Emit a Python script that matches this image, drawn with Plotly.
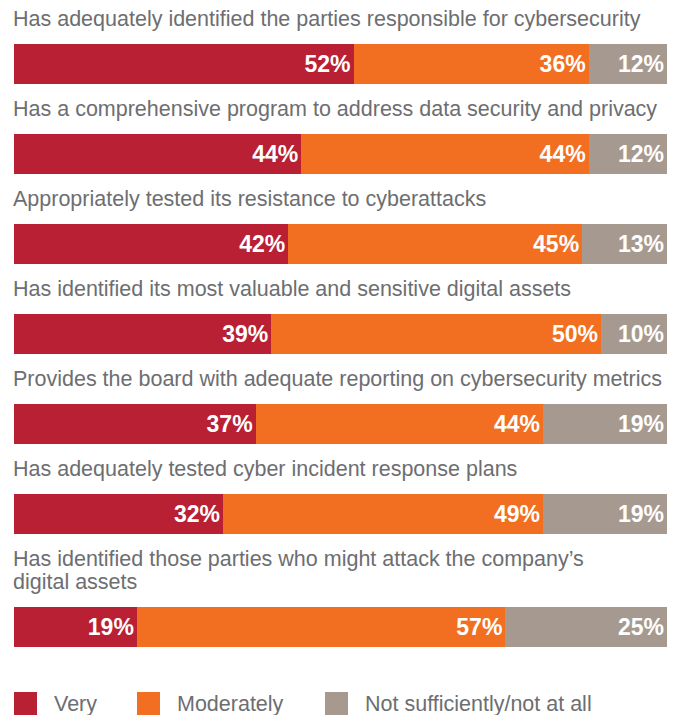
import plotly.graph_objects as go

# Survey results (share of directors)
statements = [
    "Has adequately identified the parties responsible for cybersecurity",
    "Has a comprehensive program to address data security and privacy",
    "Appropriately tested its resistance to cyberattacks",
    "Has identified its most valuable and sensitive digital assets",
    "Provides the board with adequate reporting on cybersecurity metrics",
    "Has adequately tested cyber incident response plans",
    "Has identified those parties who might attack the company’s\ndigital assets",
]
very = [52, 44, 42, 39, 37, 32, 19]
moderately = [36, 44, 45, 50, 44, 49, 57]
not_sufficiently = [12, 12, 13, 10, 19, 19, 25]

series_names = ["Very", "Moderately", "Not sufficiently/not at all"]
colors = ["#B92034", "#F26F22", "#A69A90"]
label_color = "#6D6E71"
FONT = "Liberation Sans"

# the page body has an 8px margin, so the figure is shrunk to fit the window
PAGE = 8
W, H = 677 - PAGE, 715 - PAGE
ROW_PX = 90          # pixel spacing between rows
LINE_PX = 23         # label line spacing
FIRST_PX = 64 - PAGE # centre of first bar from top of figure

# row positions in row units; extra label lines push the bar down
ypos = []
offset = 0.0
for i, s in enumerate(statements):
    offset += s.count("\n") * LINE_PX / ROW_PX
    ypos.append(i + offset)

top = -FIRST_PX / ROW_PX
bottom = top + H / ROW_PX

fig = go.Figure()
for name, vals, col in zip(series_names, [very, moderately, not_sufficiently], colors):
    fig.add_trace(go.Bar(
        y=ypos, x=vals, orientation="h", name=name,
        marker=dict(color=col, line=dict(width=0)),
        width=40 / ROW_PX,
        text=[f"{v}%" for v in vals],
        textposition="inside", insidetextanchor="end",
        textangle=0, constraintext="none",
        textfont=dict(color="white", size=23, family=FONT, weight="bold"),
        hoverinfo="skip",
    ))

# statement labels above each bar, one annotation per line
for s, y in zip(statements, ypos):
    lines = s.split("\n")
    n = len(lines)
    for j, line in enumerate(lines):
        fig.add_annotation(
            x=0, y=y, xref="x", yref="y", text=line, showarrow=False,
            xanchor="left", yanchor="bottom", align="left",
            xshift=-3, yshift=31 + (n - 1 - j) * LINE_PX,
            font=dict(size=21.5, color=label_color, family=FONT),
        )

# legend drawn by hand to get large swatches
ML, MR = 14 - PAGE, 10
plot_w = W - ML - MR
def px_x(p):
    return (p - 14) / plot_w

def px_y(p):
    return 1 - (p - PAGE) / H

leg_x = [14, 137, 325]
leg_top = 692
for name, col, lx in zip(series_names, colors, leg_x):
    fig.add_shape(
        type="rect", xref="paper", yref="paper",
        x0=px_x(lx), x1=px_x(lx + 23),
        y0=px_y(leg_top + 23), y1=px_y(leg_top),
        fillcolor=col, line=dict(width=0),
    )
    fig.add_annotation(
        x=px_x(lx + 38), y=px_y(leg_top + 12), xref="paper", yref="paper",
        text=name, showarrow=False, xanchor="left", yanchor="middle",
        font=dict(size=21.5, color=label_color, family=FONT),
    )

fig.update_layout(
    width=W, height=H,
    margin=dict(l=ML, r=MR, t=0, b=0),
    barmode="stack", barnorm="percent",
    showlegend=False,
    plot_bgcolor="white", paper_bgcolor="white",
    uniformtext=dict(mode=False),
    xaxis=dict(range=[0, 100], visible=False, fixedrange=True),
    yaxis=dict(range=[bottom, top], visible=False, fixedrange=True),
)

fig.write_html("out.html")
